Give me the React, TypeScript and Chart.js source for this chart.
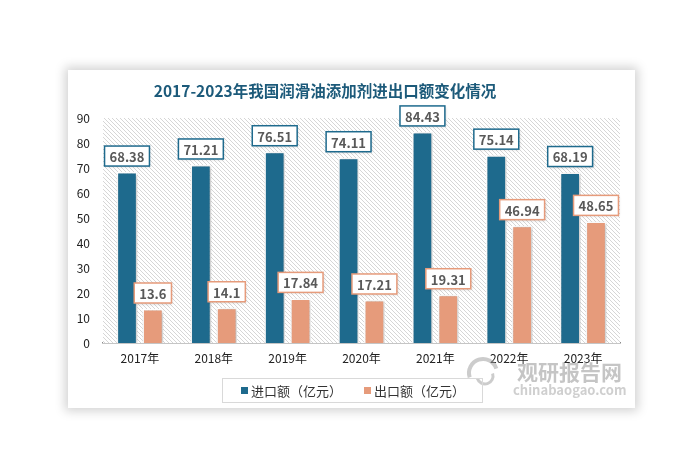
import React, { useEffect, useRef } from "react";
import { Chart, registerables } from "chart.js";

Chart.register(...registerables);

const categories = ["2017年", "2018年", "2019年", "2020年", "2021年", "2022年", "2023年"];
const importValues = [68.38, 71.21, 76.51, 74.11, 84.43, 75.14, 68.19];
const exportValues = [13.6, 14.1, 17.84, 17.21, 19.31, 46.94, 48.65];
const seriesNames = ["进口额（亿元）", "出口额（亿元）"];
const titleText = "2017-2023年我国润滑油添加剂进出口额变化情况";
const yMin = 0;
const yMax = 90;
const yStep = 10;

const BLUE = "#1E6A8D";
const SALMON = "#E69B7B";
const FONT = "'Noto Sans CJK SC', 'Noto Sans', sans-serif";

export default function App() {
  const ref = useRef<HTMLCanvasElement | null>(null);

  useEffect(() => {
    const canvas = ref.current;
    if (!canvas) return;

    const pat = document.createElement("canvas");
    pat.width = 4;
    pat.height = 4;
    const pctx = pat.getContext("2d")!;
    pctx.fillStyle = "#ffffff";
    pctx.fillRect(0, 0, 4, 4);
    pctx.fillStyle = "#d6d6d6";
    for (let i = 0; i < 4; i++) pctx.fillRect(i, i, 1, 1);

    const hatchPlugin = {
      id: "hatch",
      beforeDatasetsDraw(chart: any) {
        const { ctx, chartArea } = chart;
        ctx.save();
        const p = ctx.createPattern(pat, "repeat");
        ctx.fillStyle = p;
        ctx.fillRect(chartArea.left, chartArea.top, chartArea.right - chartArea.left, chartArea.bottom - chartArea.top);
        ctx.restore();
        ctx.save();
        ctx.shadowColor = "rgba(0,0,0,0.28)";
        ctx.shadowBlur = 3;
        ctx.shadowOffsetX = 1;
        ctx.shadowOffsetY = 1;
      },
      afterDatasetsDraw(chart: any) {
        chart.ctx.restore();
        const ctx = chart.ctx;
        chart.data.datasets.forEach((ds: any, di: number) => {
          const meta = chart.getDatasetMeta(di);
          meta.data.forEach((bar: any, i: number) => {
            const v = ds.data[i];
            const txt = String(v);
            ctx.save();
            ctx.font = `bold 13px ${FONT}`;
            const w = ctx.measureText(txt).width + 10;
            const h = 20;
            const x = bar.x - w / 2;
            const y = bar.y - 6 - h;
            ctx.shadowColor = "rgba(0,0,0,0.2)";
            ctx.shadowBlur = 3;
            ctx.shadowOffsetX = 1;
            ctx.shadowOffsetY = 1;
            ctx.fillStyle = "#ffffff";
            ctx.fillRect(x, y, w, h);
            ctx.shadowColor = "transparent";
            ctx.strokeStyle = ds.backgroundColor;
            ctx.lineWidth = 1.5;
            ctx.strokeRect(x, y, w, h);
            ctx.fillStyle = "#595959";
            ctx.textAlign = "center";
            ctx.textBaseline = "middle";
            ctx.fillText(txt, bar.x, y + h / 2 + 1);
            ctx.restore();
          });
        });
      },
    };

    const decorPlugin = {
      id: "decor",
      afterDraw(chart: any) {
        const ctx = chart.ctx;
        // title
        ctx.save();
        ctx.font = `bold 15.5px ${FONT}`;
        ctx.fillStyle = "#1C5A7A";
        ctx.textAlign = "center";
        ctx.textBaseline = "middle";
        ctx.fillText(titleText, 257, 21);
        ctx.restore();

        // watermark
        ctx.save();
        ctx.globalAlpha = 0.5;
        ctx.strokeStyle = "#9a9a9a";
        ctx.lineWidth = 4;
        ctx.beginPath();
        ctx.arc(415, 303, 14, Math.PI * 0.9, Math.PI * 1.9);
        ctx.stroke();
        ctx.lineWidth = 3;
        ctx.beginPath();
        ctx.arc(417, 306, 8, Math.PI * -0.1, Math.PI * 0.9);
        ctx.stroke();
        ctx.fillStyle = "#8c8c8c";
        ctx.font = `bold 21px ${FONT}`;
        ctx.textAlign = "left";
        ctx.textBaseline = "middle";
        ctx.fillText("观研报告网", 449, 302);
        ctx.font = `bold 13px ${FONT}`;
        ctx.fillStyle = "#a0a0a0";
        ctx.fillText("chinabaogao.com", 445, 320);
        ctx.restore();

        // legend
        ctx.save();
        ctx.strokeStyle = "#d9d9d9";
        ctx.lineWidth = 1;
        ctx.strokeRect(154.5, 308.5, 260, 24);
        ctx.font = `13px ${FONT}`;
        ctx.textBaseline = "middle";
        ctx.textAlign = "left";
        const colors = [BLUE, SALMON];
        const xs = [173, 296];
        seriesNames.forEach((n, i) => {
          ctx.fillStyle = colors[i];
          ctx.fillRect(xs[i], 317, 7, 7);
          ctx.fillStyle = "#333333";
          ctx.fillText(n, xs[i] + 10, 321);
        });
        ctx.restore();
      },
    };

    const chart = new Chart(canvas, {
      type: "bar",
      data: {
        labels: categories,
        datasets: [
          {
            label: seriesNames[0],
            data: importValues,
            backgroundColor: BLUE,
            borderColor: "#ffffff",
            borderWidth: 1.5,
            barPercentage: 0.8,
            categoryPercentage: 0.7,
          },
          {
            label: seriesNames[1],
            data: exportValues,
            backgroundColor: SALMON,
            borderColor: "#ffffff",
            borderWidth: 1.5,
            barPercentage: 0.8,
            categoryPercentage: 0.7,
          },
        ],
      },
      options: {
        responsive: false,
        animation: false,
        devicePixelRatio: 1,
        layout: { padding: { left: 0, right: 15, top: 48, bottom: 0 } },
        plugins: {
          legend: { display: false },
          title: { display: false },
          tooltip: { enabled: false },
        },
        scales: {
          x: {
            grid: { display: false, drawTicks: false },
            border: { display: true, color: "#8c8c8c", width: 1.5 },
            ticks: { color: "#222222", font: { family: FONT, size: 12 }, padding: 8 },
            afterFit(scale: any) {
              scale.height = 65;
            },
          },
          y: {
            min: yMin,
            max: yMax,
            grid: { display: false, drawTicks: false },
            border: { display: false },
            ticks: {
              stepSize: yStep,
              color: "#222222",
              font: { family: FONT, size: 12 },
              padding: 13,
            },
            afterFit(scale: any) {
              scale.width = 35;
            },
          },
        },
      },
      plugins: [hatchPlugin, decorPlugin],
    });

    return () => chart.destroy();
  }, []);

  return (
    <div style={{ position: "absolute", left: 0, top: 0, width: 700, height: 473, background: "#ffffff" }}>
      <div
        style={{
          position: "absolute",
          left: 68,
          top: 70,
          width: 567,
          height: 338,
          background: "#ffffff",
          boxShadow: "0 0 10px 3px rgba(0,0,0,0.18)",
        }}
      >
        <canvas ref={ref} width={567} height={338} style={{ width: 567, height: 338, display: "block" }} />
      </div>
    </div>
  );
}
